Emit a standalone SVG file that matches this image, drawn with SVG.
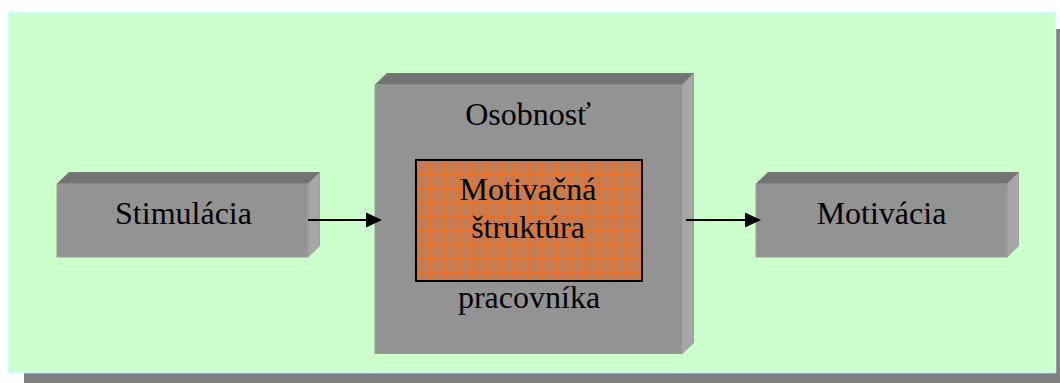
<svg xmlns="http://www.w3.org/2000/svg" width="1060" height="383" viewBox="0 0 1060 383">
  <style>
    .label { font-family: "Liberation Serif", "Times New Roman", serif; font-size: 32px; fill: #000; text-anchor: middle; }
    .front { fill: #939393; stroke: #9c9c9c; stroke-width: 1; }
    .top { fill: #737373; stroke: #7a7a7a; stroke-width: 1; }
    .side { fill: #a6a6a6; stroke: #9e9e9e; stroke-width: 1; }
    .conn { stroke: #000; stroke-width: 2; fill: none; }
    .head { fill: #000; }
  </style>
  <defs>
    <pattern id="grid" x="416" y="160" width="7" height="7" patternUnits="userSpaceOnUse">
      <rect width="7" height="7" fill="#c67c52"/>
      <path d="M0 0.5 H7 M0.5 0 V7" stroke="#ee6e22" stroke-width="1"/>
    </pattern>
  </defs>

  <!-- background panel with drop shadow -->
  <g id="panel">
    <rect x="24" y="29" width="1050" height="360" fill="#808080"/>
    <rect x="8.5" y="12.5" width="1047" height="360" fill="#ccffcc" stroke="#ccffff" stroke-width="1.5"/>
  </g>

  <!-- Stimulácia block -->
  <g id="stimulacia">
    <polygon class="top" points="57,184 69,172.5 319.5,172.5 308,184"/>
    <polygon class="side" points="308,184 319.5,172.5 319.5,246 308,257"/>
    <rect class="front" x="57" y="184" width="251" height="73"/>
    <text class="label" x="183.5" y="224">Stimulácia</text>
  </g>

  <!-- Osobnosť block with inner motivation structure -->
  <g id="osobnost">
    <polygon class="top" points="375,85 387,73.5 693.5,73.5 682,85"/>
    <polygon class="side" points="682,85 693.5,73.5 693.5,343 682,353.5"/>
    <rect class="front" x="375" y="85" width="307" height="268.5"/>
    <text class="label" x="528" y="124.5">Osobnosť</text>
    <text class="label" x="529" y="308">pracovníka</text>
  </g>

  <g id="struktura">
    <rect x="416" y="160" width="226" height="121" fill="url(#grid)" stroke="#000" stroke-width="2"/>
    <text class="label" x="528" y="200">Motivačná</text>
    <text class="label" x="528" y="238">štruktúra</text>
  </g>

  <!-- Motivácia block -->
  <g id="motivacia">
    <polygon class="top" points="756,184 768,172.5 1018.5,172.5 1007,184"/>
    <polygon class="side" points="1007,184 1018.5,172.5 1018.5,246 1007,257"/>
    <rect class="front" x="756" y="184" width="251" height="73"/>
    <text class="label" x="881.5" y="223.5">Motivácia</text>
  </g>

  <!-- connectors -->
  <g id="connectors">
    <line class="conn" x1="308" y1="220" x2="368" y2="220"/>
    <polygon class="head" points="366,212.5 382,220 366,227.5"/>
    <line class="conn" x1="686" y1="220" x2="747" y2="220"/>
    <polygon class="head" points="745,212.5 761,220 745,227.5"/>
  </g>
</svg>
